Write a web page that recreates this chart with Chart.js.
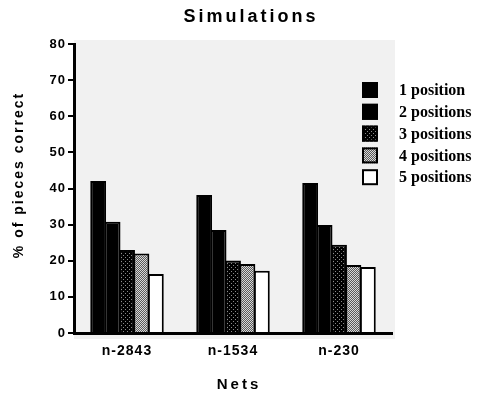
<!DOCTYPE html>
<html>
<head>
<meta charset="utf-8">
<script src="https://cdn.jsdelivr.net/npm/chart.js@4"></script>
<style>
  html, body { margin: 0; padding: 0; background: #fff; }
  #wrap { width: 480px; height: 396px; }
</style>
</head>
<body>
<div id="wrap"><canvas id="chart"></canvas></div>
<script>
const nets = ["n-2843", "n-1534", "n-230"];
const onePosition = [42.1, 38.2, 41.5];
const twoPositions = [30.8, 28.5, 29.9];
const threePositions = [23.0, 20.1, 24.4];
const fourPositions = [22.0, 19.1, 18.8];
const fivePositions = [16.3, 17.2, 18.3];
const seriesNames = ["1 position", "2 positions", "3 positions", "4 positions", "5 positions"];
const yTicks = [0, 10, 20, 30, 40, 50, 60, 70, 80];

// little fill patterns for the dotted bars
function makePattern(size, paint) {
  const c = document.createElement("canvas");
  c.width = size;
  c.height = size;
  paint(c.getContext("2d"));
  return document.getElementById("chart").getContext("2d").createPattern(c, "repeat");
}
const darkDots = makePattern(4, (g) => {
  g.fillStyle = "#000";
  g.fillRect(0, 0, 4, 4);
  g.fillStyle = "#8a8a8a";
  g.fillRect(1, 1, 1, 1);
  g.fillRect(3, 3, 1, 1);
});
const lightCheck = makePattern(2, (g) => {
  g.fillStyle = "#d8d8d8";
  g.fillRect(0, 0, 2, 2);
  g.fillStyle = "#5a5a5a";
  g.fillRect(1, 0, 1, 1);
  g.fillRect(0, 1, 1, 1);
});
const fills = ["#000", "#000", darkDots, lightCheck, "#fff"];
const values = [onePosition, twoPositions, threePositions, fourPositions, fivePositions];

const paperBg = {
  id: "paperBg",
  beforeDraw(chart) {
    const { ctx, chartArea } = chart;
    ctx.letterSpacing = "1px";
    ctx.save();
    ctx.fillStyle = "#f1f1f1";
    ctx.fillRect(chartArea.left, chartArea.top - 4, chartArea.right - chartArea.left + 3, chartArea.bottom - chartArea.top + 10);
    ctx.restore();
  },
};

// titles and the legend, placed like the scanned figure
const labelsAndLegend = {
  id: "labelsAndLegend",
  afterDraw(chart) {
    const ctx = chart.ctx;
    ctx.save();
    ctx.fillStyle = "#000";
    ctx.textAlign = "center";
    ctx.textBaseline = "middle";

    ctx.letterSpacing = "3px";
    ctx.font = "bold 18px 'Liberation Sans'";
    ctx.fillText("Simulations", 251, 17);

    ctx.letterSpacing = "3px";
    ctx.font = "bold 15px 'Liberation Sans'";
    ctx.fillText("Nets", 239, 385);

    ctx.save();
    ctx.translate(19, 176);
    ctx.rotate(-Math.PI / 2);
    ctx.letterSpacing = "2px";
    ctx.font = "bold 14px 'Liberation Sans'";
    ctx.fillText("% of pieces correct", 1, 0);
    ctx.restore();

    ctx.letterSpacing = "0px";
    ctx.textAlign = "left";
    ctx.font = "bold 16px 'Liberation Serif'";
    chart.data.datasets.forEach((ds, i) => {
      const y = 90 + i * 21.8;
      ctx.fillStyle = ds.backgroundColor;
      ctx.fillRect(362, y - 8, 16, 16);
      ctx.lineWidth = 2;
      ctx.strokeStyle = "#000";
      ctx.strokeRect(363, y - 7, 14, 14);
      ctx.fillStyle = "#000";
      ctx.fillText(ds.label, 399, y + 1);
    });
    ctx.restore();
  },
};

const ctx = document.getElementById("chart").getContext("2d");
new Chart(ctx, {
  type: "bar",
  data: {
    labels: nets,
    datasets: seriesNames.map((name, i) => ({
      label: name,
      data: values[i],
      backgroundColor: fills[i],
      borderColor: "#000",
      borderWidth: 2,
      borderSkipped: "bottom",
      categoryPercentage: 0.68,
      barPercentage: 1.1,
    })),
  },
  options: {
    responsive: true,
    maintainAspectRatio: false,
    animation: false,
    layout: { padding: { left: 0, right: 88, top: 44, bottom: 0 } },
    plugins: {
      legend: { display: false },
      tooltip: { enabled: false },
      title: { display: false },
    },
    scales: {
      x: {
        afterFit: (s) => { s.height = 63; },
        grid: { display: false },
        border: { color: "#000", width: 3 },
        ticks: { color: "#000", padding: 2, font: { family: "Liberation Sans", size: 14, weight: "bold" } },
      },
      y: {
        min: 0,
        max: 80,
        afterFit: (s) => { s.width = 74; },
        afterBuildTicks: (s) => { s.ticks = yTicks.map((v) => ({ value: v })); },
        grid: { drawOnChartArea: false, drawTicks: true, tickLength: 6, lineWidth: 2, color: "#000" },
        border: { color: "#000", width: 3 },
        ticks: { color: "#000", padding: 2, font: { family: "Liberation Sans", size: 13, weight: "bold" } },
      },
    },
  },
  plugins: [paperBg, labelsAndLegend],
});
</script>
</body>
</html>
